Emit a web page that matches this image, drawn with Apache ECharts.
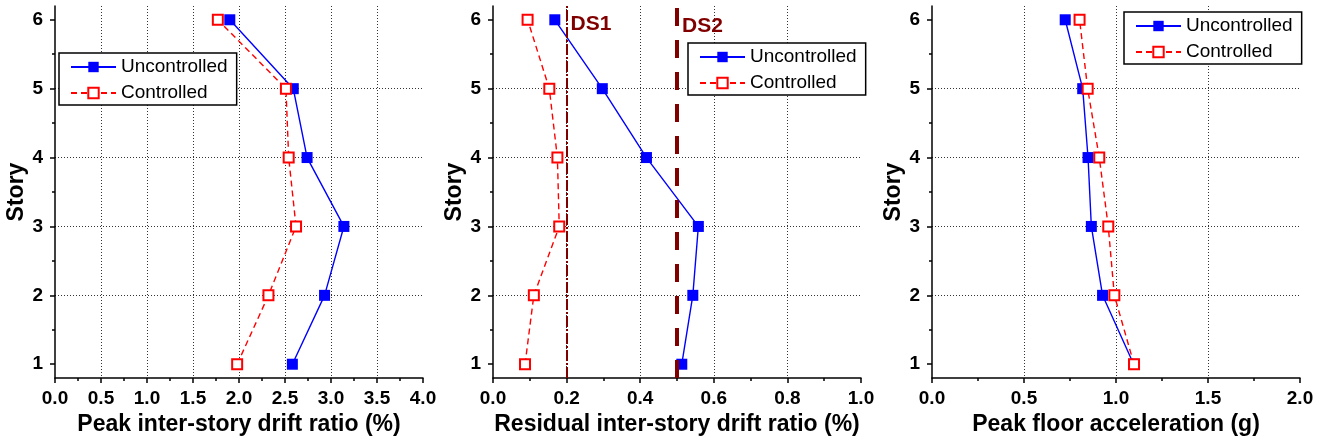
<!DOCTYPE html>
<html><head><meta charset="utf-8">
<script src="https://cdn.jsdelivr.net/npm/echarts@6/dist/echarts.min.js"></script>
<style>html,body{margin:0;padding:0;background:#fff}#c{width:1328px;height:444px}</style>
</head><body><div id="c"></div>
<script>
// ---- data ----
const stories = [1, 2, 3, 4, 5, 6];
const peakDriftUncontrolled = [2.58, 2.93, 3.14, 2.74, 2.59, 1.90];
const peakDriftControlled   = [1.98, 2.32, 2.62, 2.54, 2.51, 1.77];
const residualDriftUncontrolled = [0.513, 0.543, 0.558, 0.417, 0.297, 0.168];
const residualDriftControlled   = [0.087, 0.111, 0.180, 0.175, 0.153, 0.094];
const pfaUncontrolled = [1.096, 0.927, 0.866, 0.848, 0.819, 0.724];
const pfaControlled   = [1.098, 0.991, 0.958, 0.909, 0.846, 0.802];
const storyTicks = [1, 2, 3, 4, 5, 6];
const storyMinorTicks = [1.5, 2.5, 3.5, 4.5, 5.5];
const damageStates = [{ name: 'DS1', value: 0.2 }, { name: 'DS2', value: 0.5 }];
const xTitles = ['Peak inter-story drift ratio (%)', 'Residual inter-story drift ratio (%)', 'Peak floor acceleration (g)'];
const xRanges = [[0, 4, 0.5], [0, 1, 0.2], [0, 2, 0.5]];
const yTitle = 'Story';
const yRange = [0.8, 6.2];
const seriesNames = ['Uncontrolled', 'Controlled'];

// ---- styling / layout ----
const FONT = '"Liberation Sans", Arial, sans-serif';
const BLUE = '#0000ff', RED = '#ff0000', MAROON = '#800000';
const gridLefts = [55, 493, 932];
const legendPos = [[59, 53], [688, 43], [1124, 12]];

const chart = echarts.init(document.getElementById('c'), null, { renderer: 'canvas' });

const grids = gridLefts.map(l => ({ left: l, top: 6, width: 368, height: 372 }));

const xAxes = xRanges.map((r, i) => ({
  type: 'value', gridIndex: i, min: r[0], max: r[1], interval: r[2],
  name: xTitles[i], nameLocation: 'middle', nameGap: 35,
  nameTextStyle: { fontFamily: FONT, fontWeight: 'bold', fontSize: 23, color: '#000' },
  axisLine: { show: true, onZero: false, lineStyle: { color: '#000', width: 1.5 } },
  axisTick: { show: true, inside: false, length: 5, lineStyle: { color: '#000', width: 1.5 } },
  minorTick: { show: true, splitNumber: 2, length: 3, lineStyle: { color: '#000', width: 1.5 } },
  axisLabel: { fontFamily: FONT, fontWeight: 'bold', fontSize: 19, color: '#000', margin: 11,
    formatter: v => v.toFixed(1) },
  splitLine: { show: true, showMinLine: false, showMaxLine: false,
    lineStyle: { color: '#333', width: 1, type: [1, 2] } },
  minorSplitLine: { show: false }
}));

const yAxes = [];
[0, 1, 2].forEach(i => {
  yAxes.push({
    type: 'value', gridIndex: i, min: yRange[0], max: yRange[1],
    name: yTitle, nameLocation: 'middle', nameGap: 26, nameRotate: 90,
    nameTextStyle: { fontFamily: FONT, fontWeight: 'bold', fontSize: 23, color: '#000' },
    axisLine: { show: true, onZero: false, lineStyle: { color: '#000', width: 1.5 } },
    axisTick: { show: true, length: 5, customValues: storyTicks, lineStyle: { color: '#000', width: 1.5 } },
    axisLabel: { fontFamily: FONT, fontWeight: 'bold', fontSize: 19, color: '#000', margin: 12,
      customValues: storyTicks },
    splitLine: { show: true, showMinLine: false, showMaxLine: false,
      lineStyle: { color: '#333', width: 1, type: [1, 2] } }
  });
});
[0, 1, 2].forEach(i => {
  yAxes.push({
    type: 'value', gridIndex: i, min: yRange[0], max: yRange[1], position: 'left', offset: 0,
    axisLine: { show: false },
    axisTick: { show: true, length: 3, customValues: storyMinorTicks, lineStyle: { color: '#000', width: 1.5 } },
    axisLabel: { show: false, customValues: storyMinorTicks },
    splitLine: { show: false }
  });
});

function pairs(vals) { return stories.map((s, k) => [vals[k], s]); }

function makeSeries(i, unc, ctl, extra) {
  const a = {
    name: seriesNames[0], type: 'line', xAxisIndex: i, yAxisIndex: i,
    data: pairs(unc), symbol: 'rect', symbolSize: 11, z: 3,
    lineStyle: { color: BLUE, width: 1.4, type: 'solid' },
    itemStyle: { color: BLUE }
  };
  const b = {
    name: seriesNames[1], type: 'line', xAxisIndex: i, yAxisIndex: i,
    data: pairs(ctl), symbol: 'emptyRect', symbolSize: 10, z: 4,
    lineStyle: { color: RED, width: 1.4, type: [6, 4] },
    itemStyle: { color: RED, borderWidth: 2 }
  };
  if (extra) Object.assign(a, extra);
  return [a, b];
}

const dsExtra = {
  markLine: {
    silent: true, symbol: ['none', 'none'], animation: false,
    label: { show: false },
    data: damageStates.map((d, k) => ({
      xAxis: d.value,
      lineStyle: k === 0
        ? { color: MAROON, width: 2, type: [11, 2, 2, 2] }
        : { color: MAROON, width: 4, type: [18, 14] }
    }))
  },
  markPoint: {
    silent: true, symbol: 'rect', symbolSize: 0, animation: false,
    data: damageStates.map((d, k) => ({
      name: d.name, coord: [d.value, yRange[1]],
      label: {
        show: true, position: 'right', distance: k === 0 ? 4 : 5,
        offset: [0, k === 0 ? 18 : 20],
        formatter: d.name, color: MAROON, fontFamily: FONT, fontWeight: 'bold', fontSize: 21
      }
    }))
  }
};

const series = [
  ...makeSeries(0, peakDriftUncontrolled, peakDriftControlled),
  ...makeSeries(1, residualDriftUncontrolled, residualDriftControlled, dsExtra),
  ...makeSeries(2, pfaUncontrolled, pfaControlled)
];

const legends = legendPos.map(p => ({
  data: seriesNames, orient: 'vertical', left: p[0], top: p[1],
  backgroundColor: '#fff', borderColor: '#000', borderWidth: 1.5,
  padding: [4, 9, 2, 11], itemGap: 6, itemWidth: 45, itemHeight: 13,
  selectedMode: false,
  textStyle: { fontFamily: FONT, fontSize: 19, color: '#000', lineHeight: 20 }
}));

chart.setOption({
  animation: false,
  backgroundColor: '#fff',
  textStyle: { fontFamily: FONT },
  grid: grids, xAxis: xAxes, yAxis: yAxes, legend: legends, series: series
});
</script>
</body></html>
